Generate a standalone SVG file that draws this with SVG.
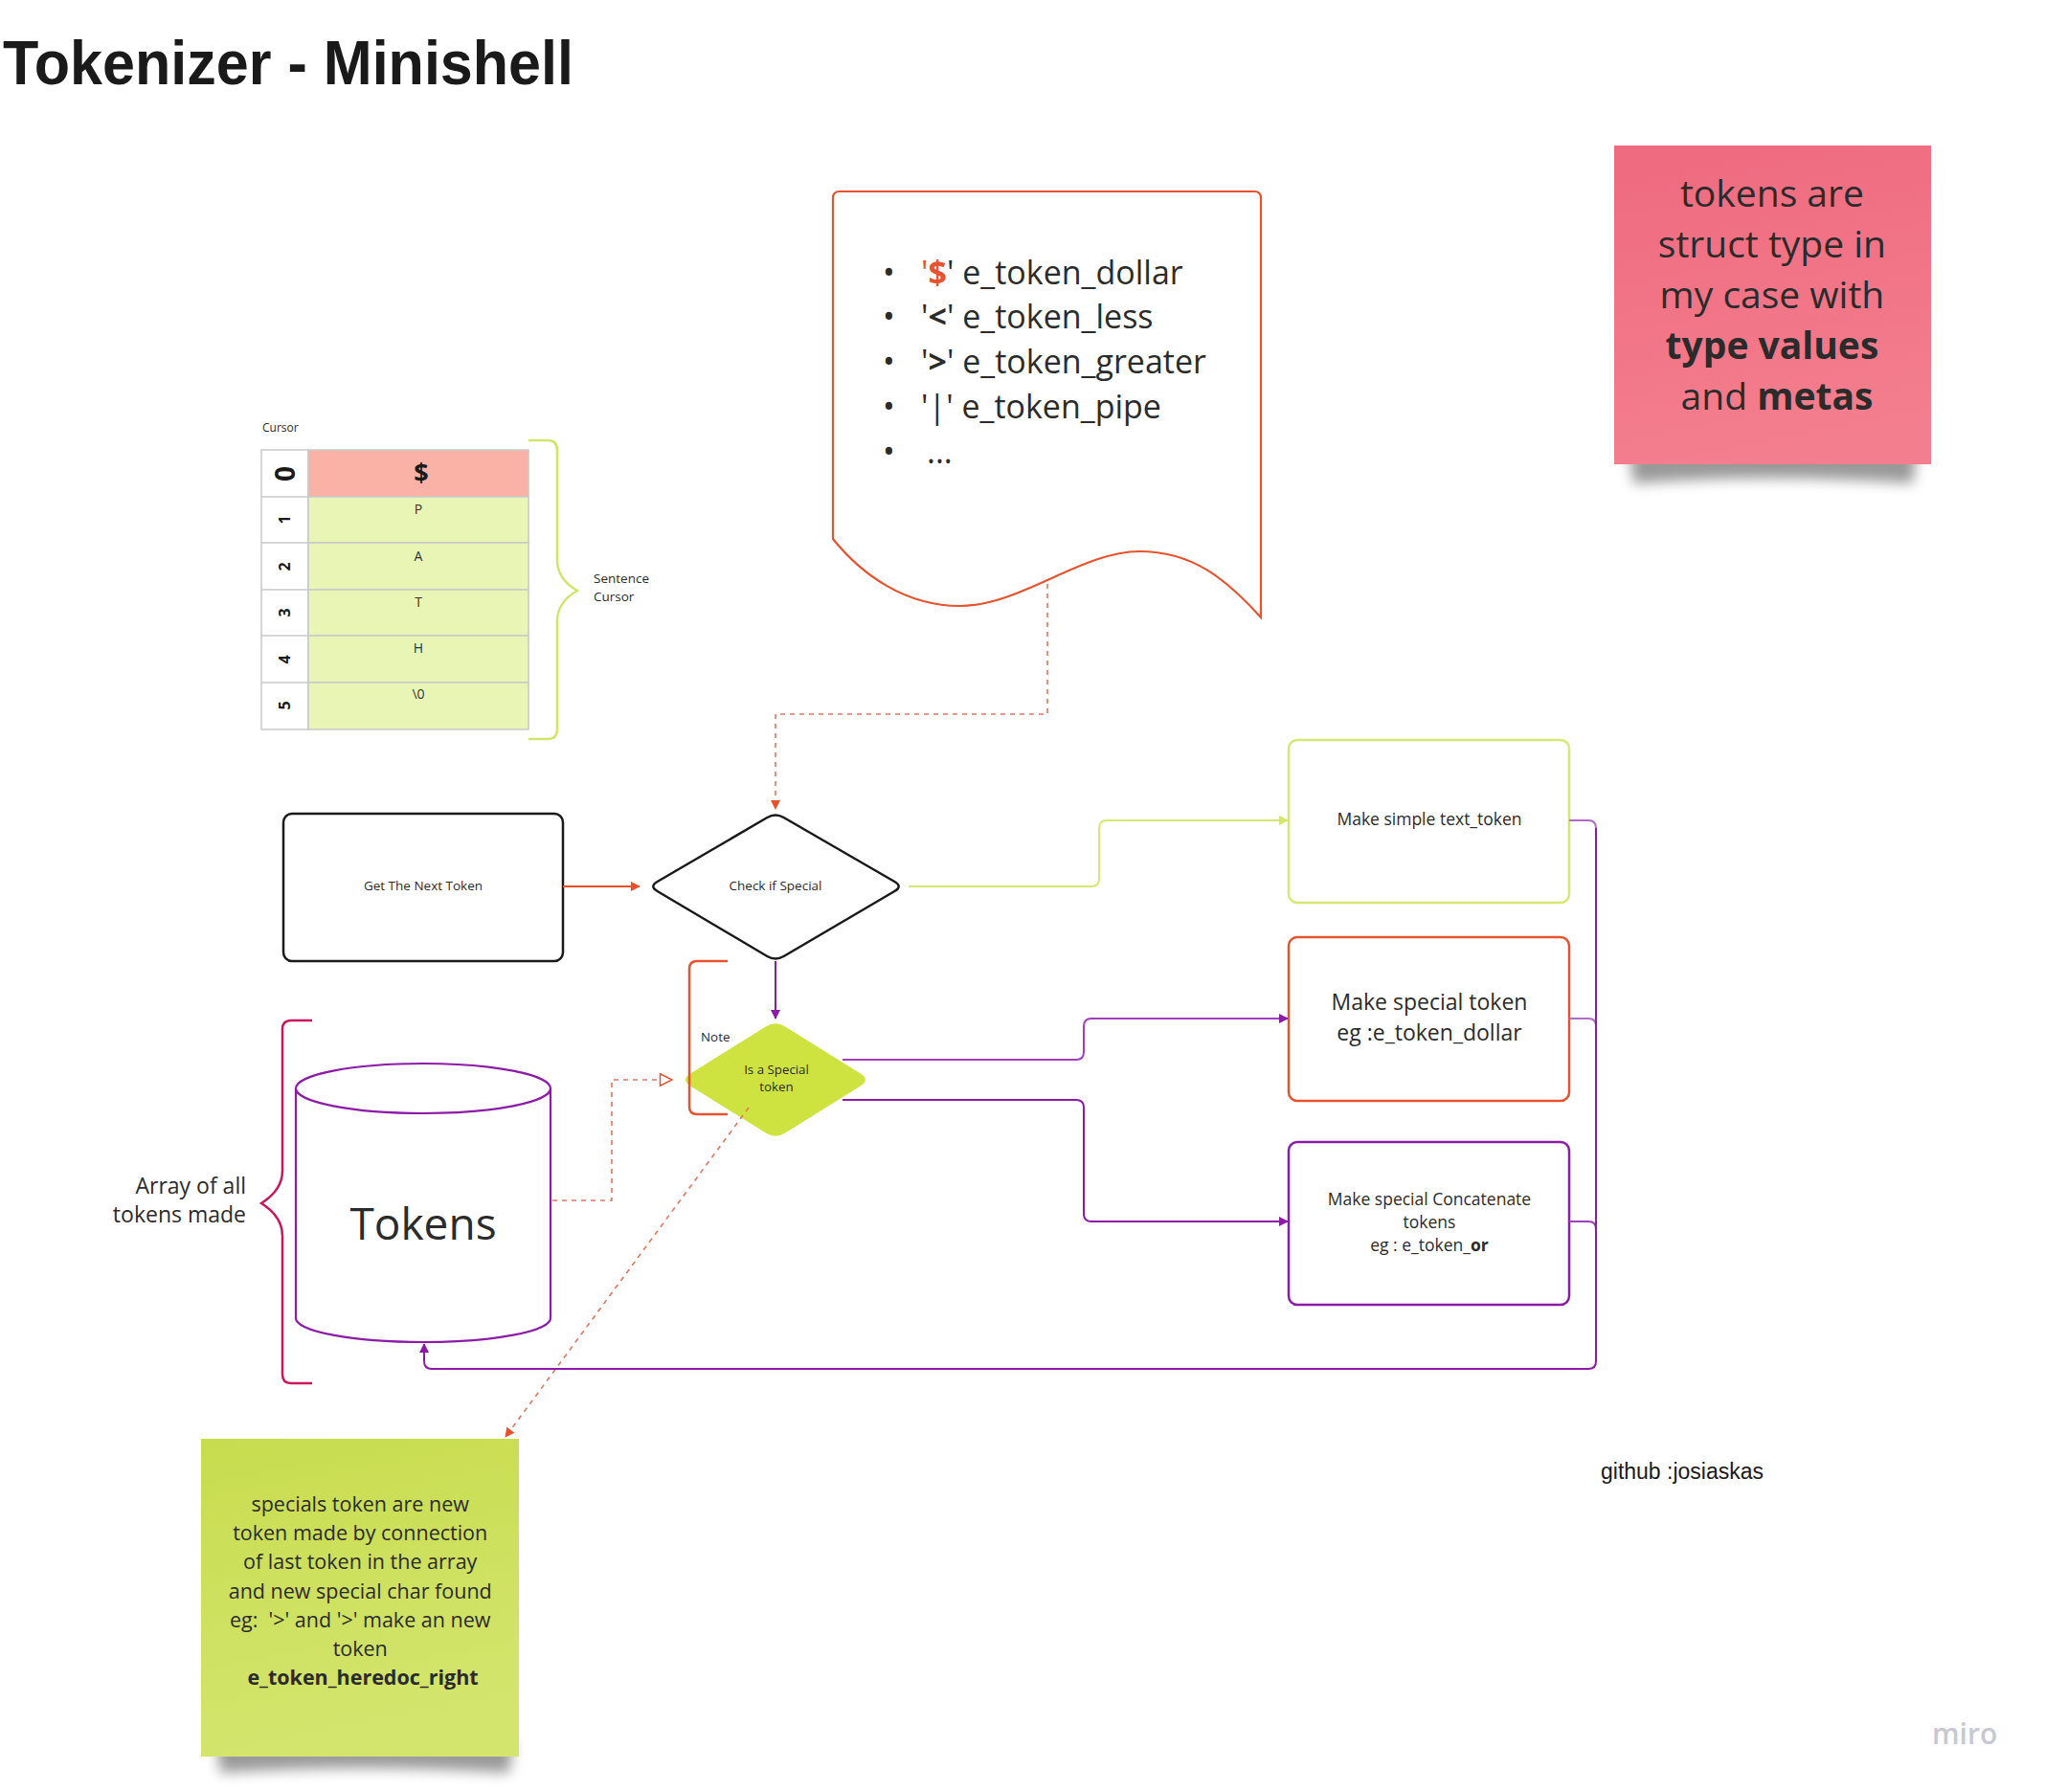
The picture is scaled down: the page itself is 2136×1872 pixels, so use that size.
<svg xmlns="http://www.w3.org/2000/svg" width="2136" height="1872" viewBox="0 0 2136 1872">
<defs>
<style>
.t{font-family:"Open Sans","Noto Sans","DejaVu Sans",sans-serif;fill:#2b2b2b}
.c{text-anchor:middle}
.b{font-weight:bold}
.box{fill:#fff;stroke-width:2.5}
.conn{fill:none;stroke-width:2}
.dash{fill:none;stroke:#e8745c;stroke-width:1.6;stroke-dasharray:5 5}
.cell{stroke:#c9c9c9;stroke-width:1.5}
.idx{font-family:"Open Sans","Noto Sans",sans-serif;font-weight:bold;fill:#1a1a1a;text-anchor:middle;dominant-baseline:central}
.val{font-family:"Open Sans","Noto Sans",sans-serif;fill:#333;text-anchor:middle;font-size:14px}
.dollar{font-size:27px;font-weight:bold;fill:#1a1a1a}
</style>
<marker id="ah-red" viewBox="0 0 10 10" refX="9" refY="5" markerWidth="13" markerHeight="10" markerUnits="userSpaceOnUse" orient="auto"><path d="M0,0 L10,5 L0,10 z" fill="#e8502d"/></marker>
<marker id="ah-lime" viewBox="0 0 10 10" refX="9" refY="5" markerWidth="13" markerHeight="10" markerUnits="userSpaceOnUse" orient="auto"><path d="M0,0 L10,5 L0,10 z" fill="#d3e66c"/></marker>
<marker id="ah-purple" viewBox="0 0 10 10" refX="9" refY="5" markerWidth="13" markerHeight="10" markerUnits="userSpaceOnUse" orient="auto"><path d="M0,0 L10,5 L0,10 z" fill="#8c1ba8"/></marker>
<marker id="ah-open" viewBox="0 0 12 12" refX="11" refY="6" markerWidth="15" markerHeight="15" markerUnits="userSpaceOnUse" orient="auto"><path d="M1,1 L11,6 L1,11 z" fill="#fff" stroke="#e8502d" stroke-width="1.2"/></marker>
<linearGradient id="gPink" x1="0" y1="0" x2="0.2" y2="1"><stop offset="0" stop-color="#ef6a7e"/><stop offset="1" stop-color="#f37e8e"/></linearGradient>
<linearGradient id="gGreen" x1="0" y1="0" x2="0.2" y2="1"><stop offset="0" stop-color="#c8dc4e"/><stop offset="1" stop-color="#d4e56e"/></linearGradient>
<filter id="blur" x="-20%" y="-100%" width="140%" height="300%"><feGaussianBlur stdDeviation="7"/></filter>
</defs>
<rect width="2136" height="1872" fill="#fff"/>

<g id="title">
<text x="3" y="88" font-family="'Liberation Sans',Arial,sans-serif" font-weight="bold" font-size="64" fill="#1a1a1a" textLength="596" lengthAdjust="spacingAndGlyphs">Tokenizer - Minishell</text>
</g>

<g id="sticky-types">
<path d="M1702,470 L2002,470 L1998,505 Q1850,494 1706,505 Z" fill="#000" opacity="0.4" filter="url(#blur)"/>
<rect x="1686" y="152" width="331" height="333" fill="url(#gPink)"/>
<text class="t c" font-size="39" fill="#1a1a1a">
<tspan x="1856" y="216">tokens are</tspan>
<tspan x="1856" y="269">struct type in</tspan>
<tspan x="1856" y="322">my case with</tspan>
<tspan x="1856" y="375" font-weight="bold">type values</tspan>
<tspan x="1856" y="428">and <tspan font-weight="bold">metas</tspan></tspan>
</text>
</g>

<g id="cursor-table">
<text class="t" x="274" y="451" font-size="12" fill="#444">Cursor</text>
<rect class="cell" x="273" y="470" width="49" height="292" fill="#fff"/>
<rect class="cell" x="322" y="470" width="230" height="49" fill="#f9b2a5"/>
<rect class="cell" x="322" y="519" width="230" height="48" fill="#e9f5b5"/>
<rect class="cell" x="322" y="567" width="230" height="49" fill="#e9f5b5"/>
<rect class="cell" x="322" y="616" width="230" height="48" fill="#e9f5b5"/>
<rect class="cell" x="322" y="664" width="230" height="49" fill="#e9f5b5"/>
<rect class="cell" x="322" y="713" width="230" height="49" fill="#e9f5b5"/>
<line class="cell" x1="273" y1="519" x2="322" y2="519"/>
<line class="cell" x1="273" y1="567" x2="322" y2="567"/>
<line class="cell" x1="273" y1="616" x2="322" y2="616"/>
<line class="cell" x1="273" y1="664" x2="322" y2="664"/>
<line class="cell" x1="273" y1="713" x2="322" y2="713"/>
<text class="idx" font-size="28" x="297" y="495" transform="rotate(-90 297 495)">0</text>
<text class="idx" font-size="16" x="297" y="543" transform="rotate(-90 297 543)">1</text>
<text class="idx" font-size="16" x="297" y="592" transform="rotate(-90 297 592)">2</text>
<text class="idx" font-size="16" x="297" y="640" transform="rotate(-90 297 640)">3</text>
<text class="idx" font-size="16" x="297" y="689" transform="rotate(-90 297 689)">4</text>
<text class="idx" font-size="16" x="297" y="737" transform="rotate(-90 297 737)">5</text>
<text class="val dollar" x="440" y="503">$</text>
<text class="val" x="437" y="537">P</text>
<text class="val" x="437" y="586">A</text>
<text class="val" x="437" y="634">T</text>
<text class="val" x="437" y="682">H</text>
<text class="val" x="437" y="730">\0</text>
</g>

<g id="sentence-brace">
<path d="M552,460 L572,460 Q582,460 582,470 L582,585 Q582,605 603,617 Q582,629 582,649 L582,762 Q582,772 572,772 L552,772" fill="none" stroke="#d2e56a" stroke-width="2.5"/>
<text class="t" font-size="13.5" fill="#333"><tspan x="620" y="609">Sentence</tspan><tspan x="620" y="628">Cursor</tspan></text>
</g>

<g id="special-list">
<path d="M870,207 Q870,200 877,200 L1310,200 Q1317,200 1317,207 L1317,645 C1280,604 1245,576 1190,576 C1130,576 1065,633 1003,633 C945,633 900,600 870,563 Z" fill="#fff" stroke="#e6532e" stroke-width="2.2"/>
<g class="t" font-size="34" fill="#2b2b2b">
<text x="922" y="297">•</text>
<text x="922" y="343">•</text>
<text x="922" y="390">•</text>
<text x="922" y="437">•</text>
<text x="922" y="484">•</text>
<text x="962" y="297"><tspan fill="#e6532e">'</tspan><tspan fill="#e6532e" font-weight="bold">$</tspan>' e_token_dollar</text>
<text x="962" y="343">'<tspan font-weight="bold">&lt;</tspan>' e_token_less</text>
<text x="962" y="390">'<tspan font-weight="bold">&gt;</tspan>' e_token_greater</text>
<text x="962" y="437">'|' e_token_pipe</text>
<text x="968" y="484">...</text>
</g>
</g>

<g id="get-next-token">
<rect class="box" x="296" y="850" width="292" height="154" rx="9" stroke="#1a1a1a"/>
<text class="t c" x="442" y="930" font-size="13.5">Get The Next Token</text>
</g>

<g id="check-if-special">
<path d="M686.6,921 L801.4,854 Q810,849 818.6,854 L934.4,921 Q943,926 934.4,931 L818.6,999 Q810,1004 801.4,999 L686.6,931 Q678,926 686.6,921 Z" fill="#fff" stroke="#1a1a1a" stroke-width="2.5"/>
<text class="t c" x="810" y="930" font-size="13.5">Check if Special</text>
</g>

<g id="make-simple">
<rect class="box" x="1346" y="773" width="293" height="170" rx="9" stroke="#d6e872"/>
<text class="t c" x="1493" y="862" font-size="17.5">Make simple text_token</text>
</g>

<g id="make-special">
<rect class="box" x="1346" y="979" width="293" height="171" rx="9" stroke="#e6532e"/>
<text class="t c" font-size="23"><tspan x="1493" y="1055">Make special token</tspan><tspan x="1493" y="1087">eg :e_token_dollar</tspan></text>
</g>

<g id="make-concat">
<rect class="box" x="1346" y="1193" width="293" height="170" rx="9" stroke="#8c1ba8"/>
<text class="t c" font-size="17.5"><tspan x="1493" y="1259">Make special Concatenate</tspan><tspan x="1493" y="1283">tokens</tspan><tspan x="1493" y="1307">eg : e_token_<tspan font-weight="bold">or</tspan></tspan></text>
</g>

<g id="tokens-db">
<path d="M309,1137 L309,1377 A133,25 0 0 0 575,1377 L575,1137" fill="#fff" stroke="#8c1ba8" stroke-width="2.2"/>
<ellipse cx="442" cy="1137" rx="133" ry="26" fill="#fff" stroke="#8c1ba8" stroke-width="2.2"/>
<text class="t c" x="442" y="1295" font-size="46" fill="#1a1a1a">Tokens</text>
</g>

<g id="array-brace">
<path d="M326,1066 L304,1066 Q295,1066 295,1075 L295,1223 Q295,1243 273,1257 Q295,1271 295,1291 L295,1436 Q295,1445 304,1445 L326,1445" fill="none" stroke="#c8175d" stroke-width="2.5"/>
<text class="t" font-size="23" fill="#333" text-anchor="end"><tspan x="257" y="1247">Array of all</tspan><tspan x="257" y="1277">tokens made</tspan></text>
</g>

<g id="is-special">
<path d="M721.2,1121.6 L799.8,1072.4 Q810,1066 820.2,1072.4 L898.8,1121.6 Q909,1128 898.8,1134.4 L820.2,1183.6 Q810,1190 799.8,1183.6 L721.2,1134.4 Q711,1128 721.2,1121.6 Z" fill="#cfe340"/>
<text class="t c" font-size="13.3" fill="#222"><tspan x="811" y="1122">Is a Special</tspan><tspan x="811" y="1140">token</tspan></text>
</g>

<g id="note">
<path d="M760,1004 L728,1004 Q720,1004 720,1012 L720,1156 Q720,1164 728,1164 L760,1164" fill="none" stroke="#e6532e" stroke-width="2.5"/>
<text class="t" x="732" y="1088" font-size="13.4" fill="#222">Note</text>
</g>

<g id="sticky-specials">
<path d="M226,1818 L536,1818 L532,1852 Q380,1842 230,1852 Z" fill="#000" opacity="0.4" filter="url(#blur)"/>
<rect x="210" y="1503" width="332" height="332" fill="url(#gGreen)"/>
<text class="t c" font-size="21.5" fill="#1a1a1a">
<tspan x="379" y="1579">specials token are new</tspan>
<tspan x="379" y="1609">token made by connection</tspan>
<tspan x="379" y="1639">of last token in the array</tspan>
<tspan x="379" y="1670">and new special char found</tspan>
<tspan x="379" y="1700">eg:&#160; '&gt;' and '&gt;' make an new</tspan>
<tspan x="379" y="1730">token</tspan>
<tspan x="379" y="1760" font-weight="bold">e_token_heredoc_right</tspan>
</text>
</g>

<g id="credits">
<text x="1672" y="1545" font-family="'Liberation Sans',Arial,sans-serif" font-size="23" fill="#1a1a1a">github :josiaskas</text>
<text x="2018" y="1822" font-family="'Open Sans','Noto Sans',sans-serif" font-weight="600" font-size="30" fill="#c8c8d3">miro</text>
</g>

<g id="connectors">
<path class="conn" d="M588,926 L668,926" stroke="#e8502d" marker-end="url(#ah-red)"/>
<path class="dash" d="M1094,610 L1094,746 L810,746 L810,845" marker-end="url(#ah-red)"/>
<path class="conn" d="M810,1004 L810,1064" stroke="#8c1ba8" marker-end="url(#ah-purple)"/>
<path class="conn" d="M949,926 L1140,926 Q1148,926 1148,918 L1148,865 Q1148,857 1156,857 L1345,857" stroke="#d6e872" marker-end="url(#ah-lime)"/>
<path class="conn" d="M880,1107 L1124,1107 Q1132,1107 1132,1099 L1132,1072 Q1132,1064 1140,1064 L1345,1064" stroke="#a040bd" marker-end="url(#ah-purple)"/>
<path class="conn" d="M880,1149 L1124,1149 Q1132,1149 1132,1157 L1132,1268 Q1132,1276 1140,1276 L1345,1276" stroke="#8c1ba8" marker-end="url(#ah-purple)"/>
<path class="dash" d="M577,1254 L639,1254 L639,1128 L702,1128" marker-end="url(#ah-open)"/>
<path class="dash" d="M782,1157 L528,1501" marker-end="url(#ah-red)"/>
<path class="conn" d="M1639,857 L1659,857 Q1667,857 1667,865" stroke="#b06ac8" stroke-width="1.6"/>
<path class="conn" d="M1639,1064 L1659,1064 Q1667,1064 1667,1072" stroke="#b06ac8" stroke-width="1.6"/>
<path class="conn" d="M1639,1276 L1659,1276 Q1667,1276 1667,1284" stroke="#a040bd" stroke-width="1.6"/>
<path class="conn" d="M1667,865 L1667,1422 Q1667,1430 1659,1430 L451,1430 Q443,1430 443,1422 L443,1404" stroke="#8c1ba8" stroke-width="2.2" marker-end="url(#ah-purple)"/>
</g>
</svg>
